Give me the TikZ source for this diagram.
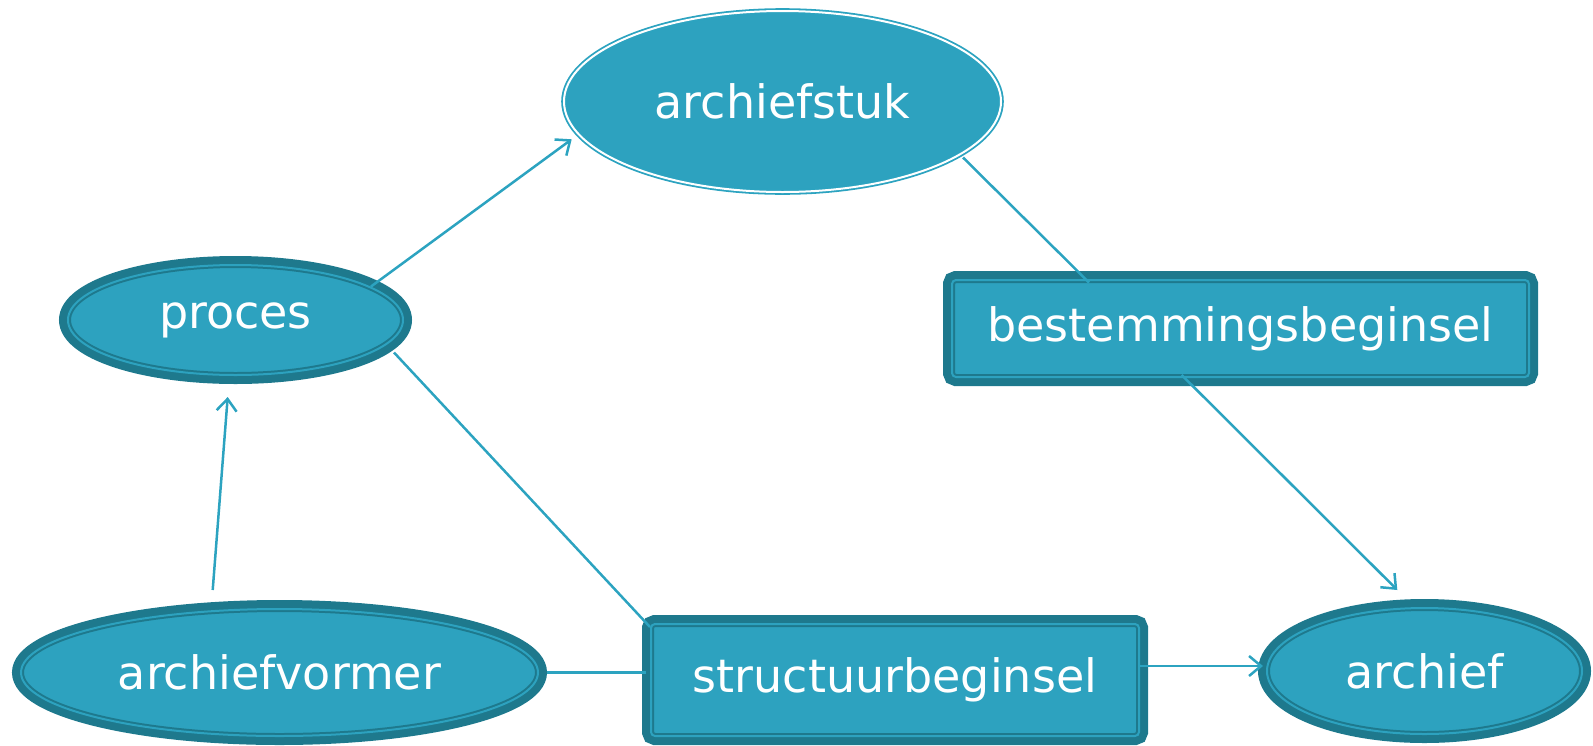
\documentclass[tikz,border=0pt]{standalone}
\usepackage{fontspec}
\setmainfont{DejaVu Sans}
\usetikzlibrary{shapes.geometric,arrows.meta,calc}
\definecolor{tealfill}{RGB}{45,162,191}
\definecolor{tealdark}{RGB}{30,121,141}
\definecolor{tealline}{RGB}{44,163,192}
\begin{document}
\begin{tikzpicture}[x=1pt,y=-1pt,
  lbl/.style={font=\fontsize{46}{50}\selectfont, text=white, inner sep=0pt},
  darkbord/.style={fill=tealfill, preaction={draw=tealdark, line width=18pt},
    draw=tealdark, double=tealfill, double distance=2pt, line width=2pt},
  darkell/.style={lbl, darkbord, ellipse},
  darkbox/.style={lbl, darkbord, rectangle, rounded corners=4pt},
  lightell/.style={lbl, ellipse, fill=tealfill, draw=tealline, double=white,
    double distance=2pt, line width=1.8pt},
  conn/.style={draw=tealline, line width=2.5pt},
  arr/.style={conn, -{Straight Barb[length=12pt,width=20pt]}}
]
\useasboundingbox (0,0) rectangle (1593,745);

\node[lightell, minimum width=437pt, minimum height=181pt] (archiefstuk) at (782.5,101.5) {archiefstuk};
\node[darkell, minimum width=335pt, minimum height=110pt] (proces) at (235.5,320) {proces};
\node[darkell, minimum width=517pt, minimum height=127pt] (archiefvormer) at (279.5,672.5) {archiefvormer};
\node[darkell, minimum width=315pt, minimum height=126pt] (archief) at (1424.5,671) {archief};
\node[darkbox, minimum width=577pt, minimum height=97pt] (bestemmingsbeginsel) at (1240.5,328.5) {bestemmingsbeginsel};
\node[darkbox, minimum width=488pt, minimum height=112pt] (structuurbeginsel) at (895,680) {structuurbeginsel};

\draw[arr] ($(proces.center)+(135.5,-33.5)$) -- ($(archiefstuk.center)+(-210.8,37.8)$);
\draw[conn] ($(archiefstuk.center)+(180.5,56)$) -- ($(bestemmingsbeginsel.center)+(-151.5,-46)$);
\draw[arr] ($(bestemmingsbeginsel.center)+(-58.8,46.5)$) -- ($(archief.center)+(-27.2,-81)$);
\draw[conn] ($(proces.center)+(158.5,32.5)$) -- ($(structuurbeginsel.center)+(-245,-53)$);
\draw[arr] ($(archiefvormer.center)+(-66.8,-82.5)$) -- ($(proces.center)+(-7.8,77)$);
\draw[conn] ($(archiefvormer.center)+(267,0)$) -- ($(structuurbeginsel.center)+(-249,-7.5)$);
\draw[arr] ($(structuurbeginsel.center)+(245,-14)$) -- ($(archief.center)+(-161.5,-5)$);
\end{tikzpicture}
\end{document}
